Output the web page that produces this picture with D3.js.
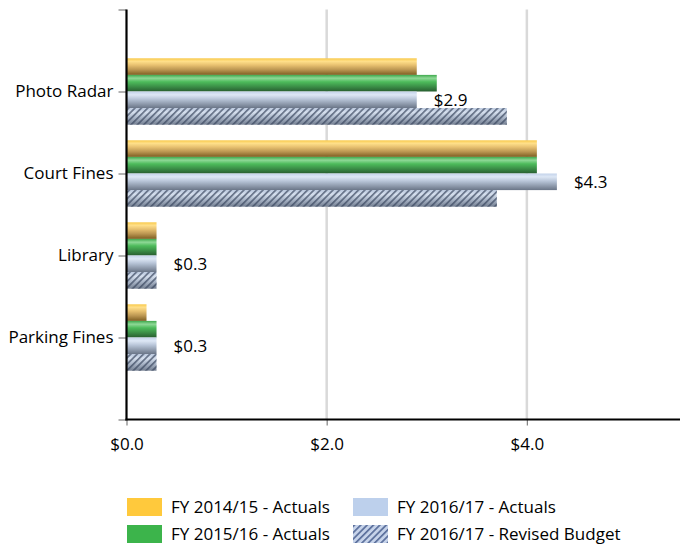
<!DOCTYPE html>
<html><head><meta charset="utf-8">
<script src="https://cdn.jsdelivr.net/npm/d3@7"></script>
<style>
html,body{margin:0;padding:0;background:#fff;}
svg{display:block;font-family:"Open Sans",sans-serif;}
</style></head>
<body><svg id="c" width="681" height="546"></svg>
<script>
const categories = ["Photo Radar", "Court Fines", "Library", "Parking Fines"];
const seriesNames = ["FY 2014/15 - Actuals", "FY 2015/16 - Actuals", "FY 2016/17 - Actuals", "FY 2016/17 - Revised Budget"];
const fy1415 = [2.9, 4.1, 0.3, 0.2];
const fy1516 = [3.1, 4.1, 0.3, 0.3];
const fy1617 = [2.9, 4.3, 0.3, 0.3];
const fy1617Budget = [3.8, 3.7, 0.3, 0.3];
const xTicks = [0, 2, 4];
const labelSeries = 2; // data labels shown for FY 2016/17 - Actuals

const seriesValues = [fy1415, fy1516, fy1617, fy1617Budget];
const svg = d3.select("#c");
const defs = svg.append("defs");
const FS = 17;

function grad(id, stops){
  const g = defs.append("linearGradient").attr("id", id).attr("x1",0).attr("y1",0).attr("x2",0).attr("y2",1);
  stops.forEach(s => g.append("stop").attr("offset", s[0]).attr("stop-color", s[1]));
}
grad("gY", [[0,"#F8C94A"],[0.18,"#FFE08A"],[0.4,"#E9C271"],[0.7,"#B99450"],[1,"#7E5E22"]]);
grad("gG", [[0,"#3FA94D"],[0.2,"#8ED896"],[0.42,"#4DBB5B"],[0.72,"#3A8C46"],[1,"#285E30"]]);
grad("gB", [[0,"#C4D3EA"],[0.2,"#DDE7F5"],[0.45,"#B9C6D9"],[0.75,"#8E9AAC"],[1,"#6A7587"]]);
grad("gH", [[0,"#B8C6DC"],[0.25,"#D6E0EE"],[0.55,"#ADB9CB"],[1,"#747F91"]]);

const pat = defs.append("pattern").attr("id","hatch").attr("patternUnits","userSpaceOnUse")
  .attr("width",4.5).attr("height",4.5).attr("patternTransform","rotate(45)");
pat.append("rect").attr("x",0).attr("y",0).attr("width",1.7).attr("height",4.5).attr("fill","#3B4760").attr("fill-opacity",0.7);

const patL = defs.append("pattern").attr("id","hatchL").attr("patternUnits","userSpaceOnUse")
  .attr("width",4.5).attr("height",4.5).attr("patternTransform","rotate(45)");
patL.append("rect").attr("width",4.5).attr("height",4.5).attr("fill","#C6D3EA");
patL.append("rect").attr("x",0).attr("y",0).attr("width",1.7).attr("height",4.5).attr("fill","#5B6F9C");

const fills = ["url(#gY)","url(#gG)","url(#gB)","url(#gH)"];

const mLeft = 126.5, mRight = 680, mTop = 9.5, mBottom = 419.5;
const x = d3.scaleLinear().domain([0, 5.53]).range([mLeft, mRight]);
const yDomain = ["__top"].concat(categories, ["__bot"]);
const y = d3.scalePoint().domain(yDomain).range([mTop, mBottom]).padding(0);
const barH = 16.6;

// gridlines
svg.append("g").selectAll("line").data(xTicks.filter(d => d > 0)).join("line")
  .attr("x1", d => x(d)).attr("x2", d => x(d)).attr("y1", mTop).attr("y2", mBottom)
  .attr("stroke", "#D9D9D9").attr("stroke-width", 2.5);

// bars
const bars = svg.append("g");
categories.forEach((cat, ci) => {
  seriesValues.forEach((vals, si) => {
    const y0 = y(cat) - 2 * barH + si * barH;
    bars.append("rect").attr("x", x(0)).attr("y", y0).attr("width", x(vals[ci]) - x(0)).attr("height", barH)
      .attr("fill", fills[si]);
    if (si === 3) {
      bars.append("rect").attr("x", x(0)).attr("y", y0).attr("width", x(vals[ci]) - x(0)).attr("height", barH)
        .attr("fill", "url(#hatch)");
    }
  });
  const v = seriesValues[labelSeries][ci];
  svg.append("text").attr("x", x(v) + 17).attr("y", y(cat) - 2 * barH + labelSeries * barH + barH / 2)
    .attr("dy", "0.35em").attr("font-size", FS).attr("fill", "#000")
    .text("$" + d3.format(".1f")(v));
});

// y axis
const yAxis = d3.axisLeft(y).tickSize(8).tickPadding(5).tickFormat(d => d.startsWith("__") ? "" : d);
const gy = svg.append("g").attr("transform", `translate(${mLeft},0)`).call(yAxis);
gy.select(".domain").remove();
gy.selectAll(".tick line").attr("stroke", "#7F7F7F").attr("stroke-width", 1.2);
gy.selectAll(".tick text").attr("font-size", FS).attr("fill", "#000").attr("font-family", "Open Sans, sans-serif");
svg.append("line").attr("x1", mLeft).attr("x2", mLeft).attr("y1", mTop).attr("y2", mBottom + 1)
  .attr("stroke", "#000").attr("stroke-width", 2.2);

// x axis
const xAxis = d3.axisBottom(x).tickValues(xTicks).tickSize(6).tickPadding(12).tickFormat(d => "$" + d3.format(".1f")(d));
const gx = svg.append("g").attr("transform", `translate(0,${mBottom})`).call(xAxis);
gx.select(".domain").remove();
gx.selectAll(".tick line").attr("stroke", "#7F7F7F").attr("stroke-width", 1.2);
gx.selectAll(".tick text").attr("font-size", FS).attr("fill", "#000").attr("font-family", "Open Sans, sans-serif");
svg.append("line").attr("x1", mLeft - 1).attr("x2", mRight).attr("y1", mBottom).attr("y2", mBottom)
  .attr("stroke", "#000").attr("stroke-width", 2.2);

// legend
const legFills = ["#FFC93C", "#3CB44B", "#BDD0EC", "url(#hatchL)"];
const legPos = [[127, 498], [127, 525], [353, 498], [353, 525]];
const leg = svg.append("g");
seriesNames.forEach((n, i) => {
  const [lx, ly] = legPos[i];
  leg.append("rect").attr("x", lx).attr("y", ly).attr("width", 35).attr("height", 18).attr("fill", legFills[i]);
  leg.append("text").attr("x", lx + 44).attr("y", ly + 9).attr("dy", "0.35em").attr("font-size", FS).attr("fill", "#000").text(n);
});
</script></body></html>
